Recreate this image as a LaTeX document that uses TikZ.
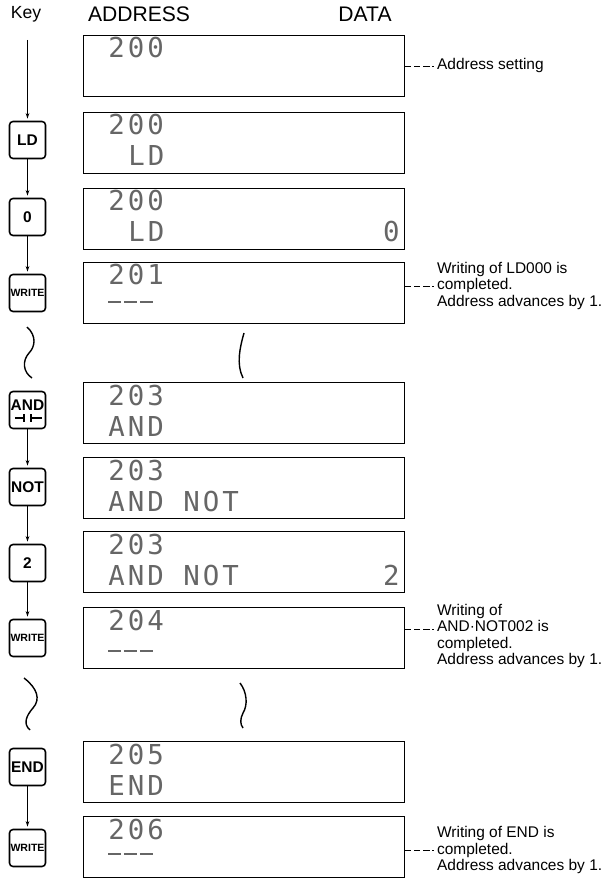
\documentclass[tikz,border=0pt]{standalone}
\usepackage{fontspec}
\setmainfont{Liberation Sans}
\newfontfamily\lcdfont[LetterSpace=11]{DejaVu Sans Mono}
\usetikzlibrary{arrows.meta,calc}
\tikzset{
  head/.style={font=\fontsize{15}{18}\selectfont,inner sep=0pt},
  keycap/.style={draw,line width=1.1pt,rounded corners=2.5pt,minimum width=.9cm,minimum height=.925cm,inner sep=0pt,font=\fontsize{11}{12}\selectfont\bfseries},
  smallcap/.style={font=\fontsize{7.5}{9}\selectfont\bfseries},
  disp/.style={draw,line width=.65pt,anchor=north west,minimum width=8.025cm,minimum height=1.525cm,inner sep=0pt},
  lcd/.style={font=\fontsize{19.5}{22}\lcdfont,text=black!60,inner sep=0pt,anchor=base west},
  cursor/.style={draw=black!60,line width=.9pt,dash pattern=on 9.2pt off 2.1pt},
  note/.style={font=\fontsize{11}{11.7}\selectfont,align=left,anchor=west,inner sep=2pt},
  flow/.style={-{Stealth[length=4pt,width=2.6pt]},line width=.6pt,shorten >=1.5pt},
  leader/.style={line width=.6pt,dash pattern=on 4.5pt off 2pt},
  brk/.style={line width=1pt}
}
\begin{document}
\begin{tikzpicture}[x=0.025cm,y=-0.025cm]
  \useasboundingbox (0,0) rectangle (608,878);
  % column heads
  \node[head,font=\fontsize{12.5}{15}\selectfont] (hkey) at (26,14) {Key};
  \node[head] (haddr) at (139,14) {ADDRESS};
  \node[head] (hdata) at (365,14) {DATA};
  \coordinate (start) at (27.5,40);

  % displays
  \node[disp] (d1) at (83,35) {};
  \node[lcd] at ($(d1.north west)+(25,23)$) {200};
  \node[disp] (d2) at (83,112) {};
  \node[lcd] at ($(d2.north west)+(25,23)$) {200};
  \node[lcd] at ($(d2.north west)+(45,54)$) {LD};
  \node[disp] (d3) at (83,188) {};
  \node[lcd] at ($(d3.north west)+(25,23)$) {200};
  \node[lcd] at ($(d3.north west)+(45,54)$) {LD};
  \node[lcd,anchor=base east] at ($(d3.north east)+(-5,54)$) {0};
  \node[disp] (d4) at (83,262) {};
  \node[lcd] at ($(d4.north west)+(25,23)$) {201};
  \draw[cursor] ($(d4.north west)+(25,40)$) -- ++(46,0);
  \node[disp] (d5) at (83,382) {};
  \node[lcd] at ($(d5.north west)+(25,23)$) {203};
  \node[lcd] at ($(d5.north west)+(25,54)$) {AND};
  \node[disp] (d6) at (83,457) {};
  \node[lcd] at ($(d6.north west)+(25,23)$) {203};
  \node[lcd] at ($(d6.north west)+(25,54)$) {AND NOT};
  \node[disp] (d7) at (83,531) {};
  \node[lcd] at ($(d7.north west)+(25,23)$) {203};
  \node[lcd] at ($(d7.north west)+(25,54)$) {AND NOT};
  \node[lcd,anchor=base east] at ($(d7.north east)+(-5,54)$) {2};
  \node[disp] (d8) at (83,607) {};
  \node[lcd] at ($(d8.north west)+(25,23)$) {204};
  \draw[cursor] ($(d8.north west)+(25,44)$) -- ++(46,0);
  \node[disp] (d9) at (83,741) {};
  \node[lcd] at ($(d9.north west)+(25,23)$) {205};
  \node[lcd] at ($(d9.north west)+(25,54)$) {END};
  \node[disp] (d10) at (83,816) {};
  \node[lcd] at ($(d10.north west)+(25,23)$) {206};
  \draw[cursor] ($(d10.north west)+(25,38)$) -- ++(46,0);

  % keys
  \node[keycap] (kld) at (27.5,140) {LD};
  \node[keycap] (kzero) at (27.5,217) {0};
  \node[keycap,smallcap] (kwa) at (27.5,293) {WRITE};
  \node[keycap] (kand) at (27.5,410) {};
  \node[font=\fontsize{11}{12}\selectfont\bfseries,inner sep=0pt] at ([yshift=3.6pt]kand.center) {AND};
  \draw[line width=.9pt] ([xshift=-8.9pt,yshift=-5.7pt]kand.center) -- ([xshift=-2.5pt,yshift=-5.7pt]kand.center)
    ([xshift=-2.5pt,yshift=-2.9pt]kand.center) -- ([xshift=-2.5pt,yshift=-8.5pt]kand.center)
    ([xshift=2.5pt,yshift=-2.9pt]kand.center) -- ([xshift=2.5pt,yshift=-8.5pt]kand.center)
    ([xshift=2.5pt,yshift=-5.7pt]kand.center) -- ([xshift=10.3pt,yshift=-5.7pt]kand.center);
  \node[keycap] (knot) at (27.5,487) {NOT};
  \node[keycap] (ktwo) at (27.5,563) {2};
  \node[keycap,smallcap] (kwb) at (27.5,638) {WRITE};
  \node[keycap] (kend) at (27.5,767) {END};
  \node[keycap,smallcap] (kwc) at (27.5,848) {WRITE};

  \draw[flow] (start) -- (kld);
  \draw[flow] (kld) -- (kzero);
  \draw[flow] (kzero) -- (kwa);
  \draw[flow] (kand) -- (knot);
  \draw[flow] (knot) -- (ktwo);
  \draw[flow] (ktwo) -- (kwb);
  \draw[flow] (kend) -- (kwc);

  % breaks
  \draw[brk] (27,327) .. controls (37,336) and (35,347) .. (29,353) .. controls (22,361) and (23,372) .. (32,378);
  \draw[brk] (244,333) .. controls (240,347) and (236,364) .. (243,378);
  \draw[brk] (24,678) .. controls (37,688) and (41,699) .. (33,708) .. controls (26,716) and (23,724) .. (30,730);
  \draw[brk] (240,683) .. controls (247,692) and (248,705) .. (243,713) .. controls (240,719) and (240,724) .. (243,728);

  % notes
  \node[note] (n1) at (434,66) {Address setting};
  \node[note] (n2) at (434,286) {Writing of LD000 is\\completed.\\Address advances by 1.};
  \node[note] (n3) at (434,636) {Writing of\\AND·NOT002 is\\completed.\\Address advances by 1.};
  \node[note] (n4) at (434,850) {Writing of END is\\completed.\\Address advances by 1.};
  \coordinate (n3l) at ([yshift=4.5pt]n3.west);
  \draw[leader] (d1.east |- n1.west) -- (n1.west);
  \draw[leader] (d4.east |- n2.west) -- (n2.west);
  \draw[leader] (d8.east |- n3l) -- (n3l);
  \draw[leader] (d10.east |- n4.west) -- (n4.west);
\end{tikzpicture}
\end{document}
